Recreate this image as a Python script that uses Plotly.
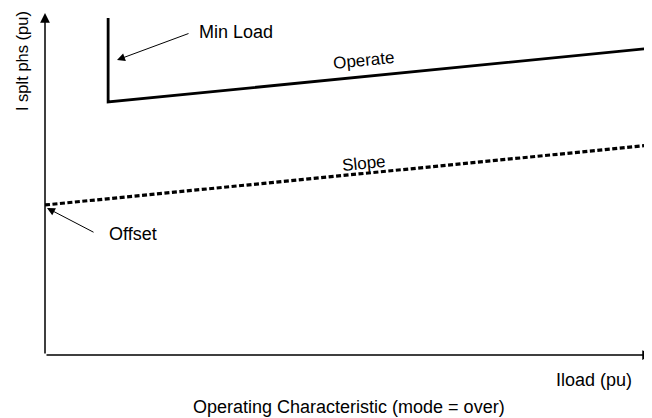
import plotly.graph_objects as go

# Data (pu)
operate_x = [1.04, 1.04, 10.0]
operate_y = [9.88, 7.42, 9.00]
slope_x = [0.0, 10.0]
slope_y = [4.40, 6.16]

x_title = "Iload (pu)"
y_title = "I splt phs (pu)"
chart_title = "Operating Characteristic (mode = over)"

FONT = "Liberation Sans, Arial, sans-serif"

fig = go.Figure()
fig.add_trace(go.Scatter(x=operate_x, y=operate_y, mode="lines",
                         line=dict(color="black", width=2.8), showlegend=False,
                         hoverinfo="skip"))
fig.add_trace(go.Scatter(x=slope_x, y=slope_y, mode="lines",
                         line=dict(color="black", width=3.2, dash="5px,2.5px"),
                         showlegend=False, hoverinfo="skip"))

ann = []
# axes with arrows
ann.append(dict(x=10, y=0, ax=0, ay=0, xref="x", yref="y", axref="x", ayref="y",
                text="", showarrow=True, arrowhead=2, arrowsize=1.3, arrowwidth=1.5,
                arrowcolor="black"))
ann.append(dict(x=0, y=10.03, ax=0, ay=0, xref="x", yref="y", axref="x", ayref="y",
                text="", showarrow=True, arrowhead=2, arrowsize=1.3, arrowwidth=1.5,
                arrowcolor="black"))
# Min Load
ann.append(dict(x=2.504, y=9.472, xref="x", yref="y", text="Min Load", showarrow=False,
                xanchor="left", yanchor="middle", font=dict(size=18)))
ann.append(dict(x=1.186, y=8.651, ax=2.389, ay=9.443, xref="x", yref="y", axref="x", ayref="y",
                text="", showarrow=True, arrowhead=2, arrowsize=1.6, arrowwidth=1,
                arrowcolor="black"))
# Operate / Slope labels
ann.append(dict(x=5.239, y=8.651, xref="x", yref="y", text="Operate", showarrow=False,
                textangle=-5.6, font=dict(size=17)))
ann.append(dict(x=5.239, y=5.63, xref="x", yref="y", text="Slope", showarrow=False,
                textangle=-5.6, font=dict(size=17)))
# Offset
ann.append(dict(x=1.021, y=3.548, xref="x", yref="y", text="Offset", showarrow=False,
                xanchor="left", yanchor="middle", font=dict(size=18)))
ann.append(dict(x=0.033, y=4.311, ax=0.824, ay=3.578, xref="x", yref="y", axref="x", ayref="y",
                text="", showarrow=True, arrowhead=2, arrowsize=1.6, arrowwidth=1,
                arrowcolor="black"))
# axis titles
ann.append(dict(x=0.9045, y=-0.0733, xref="paper", yref="paper", text=x_title, showarrow=False,
                xanchor="center", yanchor="middle", font=dict(size=18)))
ann.append(dict(x=-0.0379, y=0.862, xref="paper", yref="paper", text=y_title, showarrow=False,
                textangle=-90, xanchor="center", yanchor="middle", font=dict(size=16.5)))
ann.append(dict(x=0.5, y=-0.152, xref="paper", yref="paper", text=chart_title, showarrow=False,
                xanchor="center", yanchor="middle", font=dict(size=18)))

# page body has an 8px margin, so the figure is shrunk/shifted accordingly
fig.update_layout(
    width=644, height=410,
    margin=dict(l=37, r=0, t=6, b=63),
    plot_bgcolor="white", paper_bgcolor="white",
    font=dict(family=FONT, color="black", size=18),
    xaxis=dict(range=[0, 10], visible=False, fixedrange=True),
    yaxis=dict(range=[0, 10], visible=False, fixedrange=True),
    annotations=ann,
    showlegend=False,
)

fig.write_html("out.html")
